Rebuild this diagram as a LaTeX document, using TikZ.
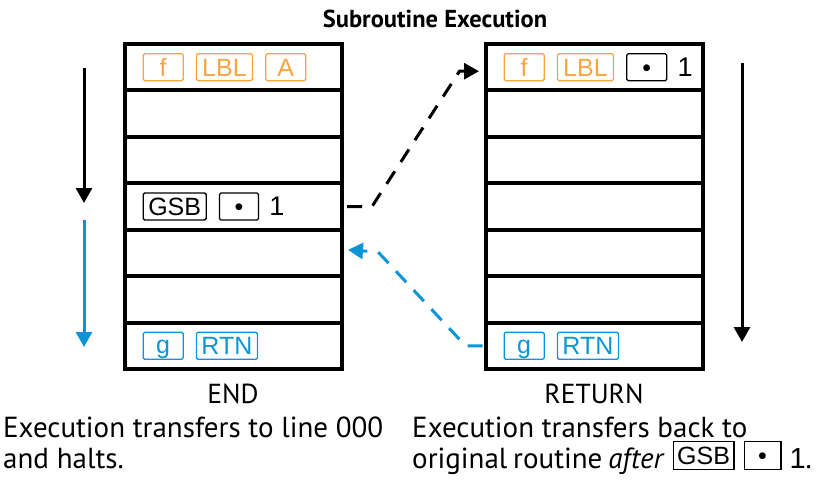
\documentclass[tikz,border=0pt]{standalone}
\usepackage{fontspec}
\setmainfont{PT Sans}
\newfontfamily\keyfont{Liberation Sans}
\usetikzlibrary{arrows.meta,positioning}
\definecolor{fkeyorange}{HTML}{F8A53F}
\definecolor{gkeyblue}{HTML}{0A96D6}
\newcommand{\capkey}[2]{{\setlength{\fboxsep}{0pt}\setlength{\fboxrule}{1.3pt}%
  \raisebox{4pt}{\framebox[#1][c]{\rule[-4pt]{0pt}{26.5pt}\keyfont\fontsize{25}{25}\selectfont#2}}}}

\begin{document}
\begin{tikzpicture}[
  x=1pt, y=-1pt,
  font=\fontsize{29}{31}\selectfont,
  cell/.style={draw, line width=4pt, minimum width=217pt, minimum height=46.43pt,
               inner sep=0pt, outer sep=0pt},
  key/.style={draw=#1, text=#1, line width=1.3pt, rounded corners=1.5pt,
              minimum height=27pt, inner sep=0pt, text height=18pt, text depth=0pt,
              font=\keyfont\fontsize{25}{25}\selectfont},
  key/.default=black,
  digit/.style={font=\keyfont\fontsize{27}{27}\selectfont, inner sep=0pt},
  flow/.style={-{Triangle[length=15pt,width=16pt]}, line width=3pt},
  jump/.style={flow, dash pattern=on 15pt off 11pt},
  caption/.style={align=left, anchor=north west, inner sep=0pt},
  colcap/.style={font=\fontsize{27.5}{27.5}\selectfont}
]
\useasboundingbox (0,0) rectangle (829,481);

\node[font=\bfseries\fontsize{24.5}{24.5}\selectfont] (title) at (435,19) {Subroutine Execution};

% program memory columns
\foreach \i in {1,...,7} {
  \node[cell] (L\i) at (233, {44+46.43*(\i-0.5)}) {};
  \node[cell] (R\i) at (594, {44+46.43*(\i-0.5)}) {};
}

\node[key=fkeyorange, minimum width=40pt, right=18pt of L1.west] (Lf) {f};
\node[key=fkeyorange, minimum width=56pt, right=12pt of Lf] (Llbl) {LBL};
\node[key=fkeyorange, minimum width=40pt, right=12pt of Llbl] (La) {A};

\node[key, minimum width=63pt, right=18pt of L4.west] (Lgsb) {GSB};
\node[key, minimum width=39pt, right=12pt of Lgsb] (Ldot) {•};
\node[digit, right=10pt of Ldot] (Lone) {1};

\node[key=gkeyblue, minimum width=40pt, text depth=3pt, right=18pt of L7.west] (Lg) {g};
\node[key=gkeyblue, minimum width=61pt, right=12pt of Lg] (Lrtn) {RTN};

\node[key=fkeyorange, minimum width=40pt, right=18pt of R1.west] (Rf) {f};
\node[key=fkeyorange, minimum width=56pt, right=12pt of Rf] (Rlbl) {LBL};
\node[key, minimum width=40pt, right=12pt of Rlbl] (Rdot) {•};
\node[digit, right=10pt of Rdot] (Rone) {1};

\node[key=gkeyblue, minimum width=40pt, text depth=3pt, right=18pt of R7.west] (Rg) {g};
\node[key=gkeyblue, minimum width=61pt, right=12pt of Rg] (Rrtn) {RTN};

% run direction
\coordinate (runA) at (84,68);
\coordinate (runB) at (84,203);
\coordinate (runC) at (84,220);
\coordinate (runD) at (84,347);
\coordinate (runE) at (742,63);
\coordinate (runF) at (742,342);
\draw[flow] (runA) -- (runB);
\draw[flow, gkeyblue] (runC) -- (runD);
\draw[flow] (runE) -- (runF);

% subroutine call and return
\draw[jump] ([xshift=5.5pt]L4.east) -- ++(25,0)
  -- ([xshift=-26pt,yshift=-4pt]R1.west) -- ([xshift=-6.5pt,yshift=-4pt]R1.west);
\draw[jump, gkeyblue] ([xshift=-3pt]R7.west) -- ++(-17,0)
  -- ([xshift=36.5pt,yshift=1pt]L5.east) -- ([xshift=6.5pt,yshift=3pt]L5.east);

\node[colcap] (endlbl) at (233,394) {END};
\node[colcap] (retlbl) at (594,394) {RETURN};
\node[caption] (endtxt) at (3,417) {Execution transfers to line 000\\and halts.};
\node[caption] (rettxt) at (412,417) {Execution transfers back to\\{\spaceskip=0.2em plus 0.1em minus 0.1em
  original routine \emph{after}}\hspace{8pt}\capkey{62pt}{GSB}\hspace{9pt}\capkey{38pt}{•}\hspace{8pt}{\keyfont 1}.};
\end{tikzpicture}
\end{document}
